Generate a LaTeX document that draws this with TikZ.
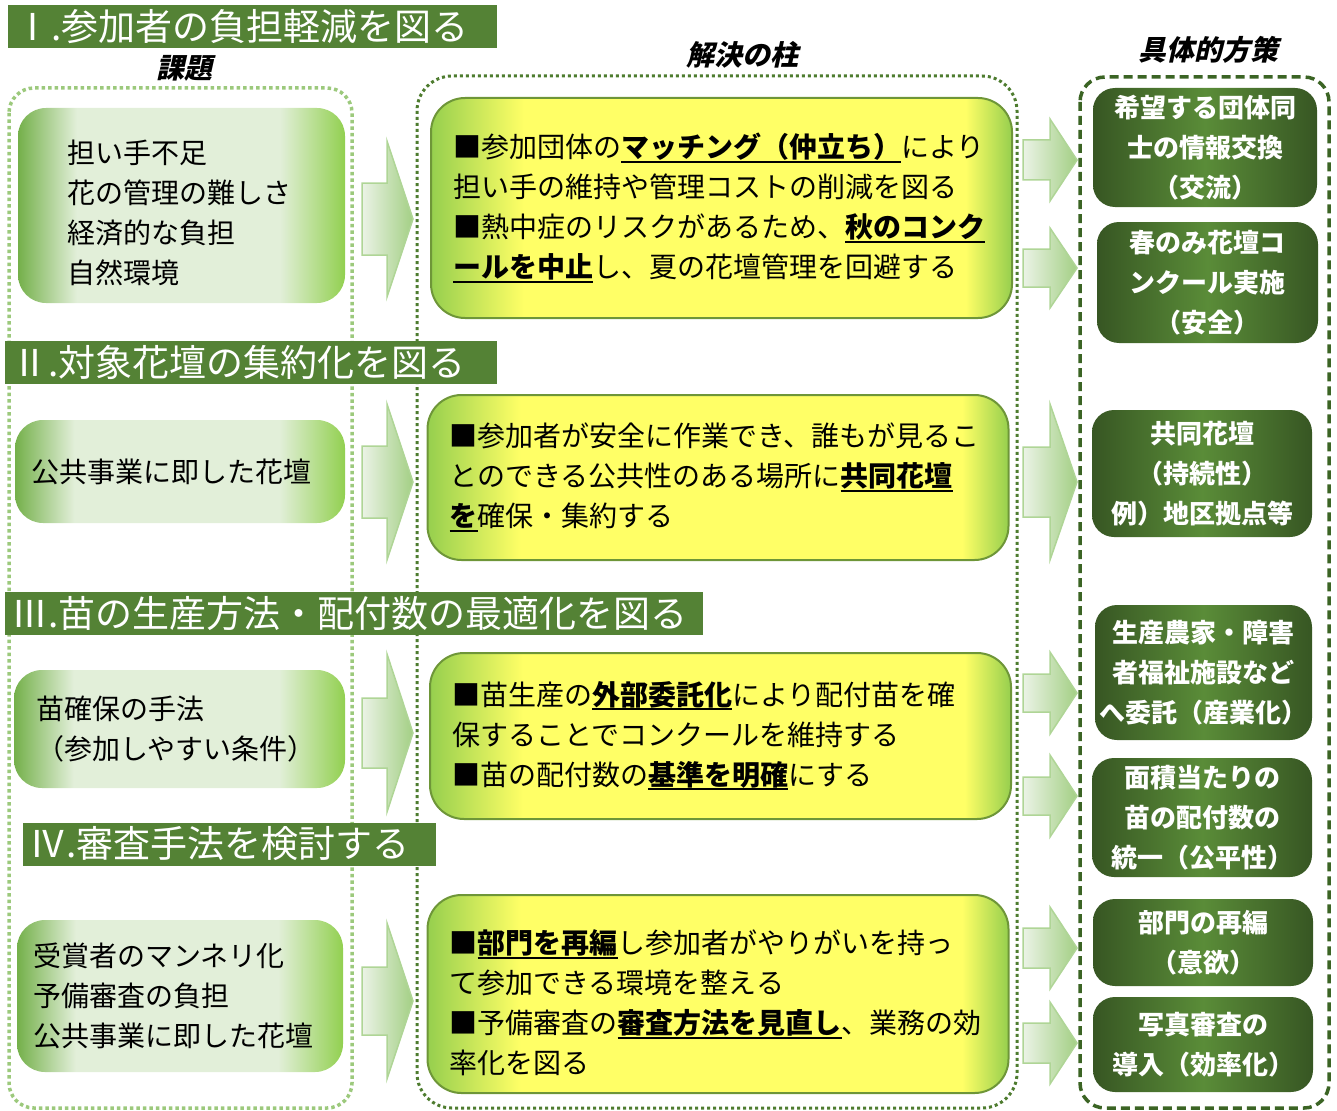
\documentclass[tikz,border=0pt]{standalone}
\usepackage{fontspec}
\setmainfont{Noto Sans CJK JP}
\newfontfamily\headfont[FakeSlant=0.22]{Noto Sans CJK JP}
\definecolor{bargreen}{HTML}{548235}
\definecolor{kadaiL}{HTML}{74B04A}
\definecolor{kadaiM}{HTML}{E2EFD9}
\definecolor{kadaiR}{HTML}{92D050}
\definecolor{hashiraG}{HTML}{96CF4E}
\definecolor{hashiraY}{HTML}{FFFF66}
\definecolor{hashiraline}{HTML}{6E9638}
\definecolor{sakuD}{HTML}{375623}
\definecolor{sakuL}{HTML}{5A8C38}
\definecolor{arrowpale}{HTML}{EBF3E6}
\definecolor{arrowgreen}{HTML}{A3CF84}
\definecolor{arrowline}{HTML}{AFD596}
\definecolor{kadaidot}{HTML}{9CC97C}
\definecolor{hashiradot}{HTML}{4E7C2F}
\definecolor{sakudash}{HTML}{3B6424}
\pgfdeclarehorizontalshading{kadaifill}{100bp}{color(0bp)=(kadaiL); color(25bp)=(kadaiL); color(34bp)=(kadaiM); color(65bp)=(kadaiM); color(75bp)=(kadaiR); color(100bp)=(kadaiR)}
\pgfdeclarehorizontalshading{hashirafill}{100bp}{color(0bp)=(hashiraG); color(25bp)=(hashiraG); color(33bp)=(hashiraY); color(71bp)=(hashiraY); color(75bp)=(hashiraG); color(100bp)=(hashiraG)}
\pgfdeclarehorizontalshading{sakufill}{100bp}{color(0bp)=(sakuD); color(25bp)=(sakuD); color(50bp)=(sakuL); color(75bp)=(sakuD); color(100bp)=(sakuD)}
\newsavebox\keybox
\newcommand\keyul[1]{\leavevmode\sbox\keybox{\bfseries#1}\rlap{\rule[-5pt]{\wd\keybox}{2pt}}\usebox\keybox}
\begin{document}
\begin{tikzpicture}[x=1pt,y=-1pt,
  titlebar/.style={fill=bargreen,text=white,inner xsep=6pt,inner ysep=0pt,align=left,minimum height=43pt,font=\fontsize{37}{40}\selectfont},
  headtext/.style={inner sep=0pt,font=\headfont\bfseries\fontsize{28}{34}\selectfont},
  kadaibox/.style={shading=kadaifill,rounded corners=28pt,inner ysep=0pt,align=left,font=\fontsize{28}{40}\selectfont},
  hashirabox/.style={shading=hashirafill,draw=hashiraline,line width=2pt,rounded corners=34pt,inner xsep=22pt,inner ysep=0pt,align=left,text width=537pt,font=\fontsize{28}{40}\selectfont},
  sakubox/.style={shading=sakufill,rounded corners=22pt,inner sep=0pt,text=white,align=center,font=\bfseries\fontsize{26}{40}\selectfont},
  bigarrow/.style={draw=arrowline,line width=1.5pt,left color=arrowpale,right color=arrowgreen},
  kadaiframe/.style={draw=kadaidot,line width=3.5pt,dash pattern=on 3.5pt off 3pt,rounded corners=25pt},
  hashiraframe/.style={draw=hashiradot,line width=3pt,dash pattern=on 3pt off 3pt,rounded corners=35pt},
  sakuframe/.style={draw=sakudash,line width=3.5pt,dash pattern=on 9pt off 5pt,rounded corners=25pt}]
\useasboundingbox (0,0) rectangle (1337,1110);
\draw[kadaiframe] (9,88) rectangle (352,1108);
\draw[hashiraframe] (417,76) rectangle (1017,1108);
\draw[sakuframe] (1080,77) rectangle (1329,1108);
\node[titlebar,minimum width=489pt,text width=477pt] (t1) at (252.5,26.5) {Ⅰ.参加者の負担軽減を図る};
\node[titlebar,minimum width=492pt,text width=480pt] (t2) at (251,362) {Ⅱ.対象花壇の集約化を図る};
\node[titlebar,minimum width=698pt,text width=686pt] (t3) at (354,613.5) {Ⅲ.苗の生産方法・配付数の最適化を図る};
\node[titlebar,minimum width=413pt,text width=401pt] (t4) at (229.5,844) {Ⅳ.審査手法を検討する};
\node[headtext] (hkadai) at (184,68) {課題};
\node[headtext] (hhashira) at (742,55) {解決の柱};
\node[headtext] (hsaku) at (1208,50) {具体的方策};
\foreach \yc/\bh/\hh in {219/36/78, 482/36/78, 733/35/79, 1001/34/78}
  \draw[bigarrow] (362,\yc-\bh) -- (387,\yc-\bh) -- (387,\yc-\hh) -- (413,\yc) -- (387,\yc+\hh) -- (387,\yc+\bh) -- (362,\yc+\bh) -- cycle;
\foreach \yc/\bh/\hh in {160/20/41, 268/19/40, 482/35/78, 693/19/41, 796/19/41, 948/20/41, 1043/20/41}
  \draw[bigarrow] (1023,\yc-\bh) -- (1050,\yc-\bh) -- (1050,\yc-\hh) -- (1077,\yc) -- (1050,\yc+\hh) -- (1050,\yc+\bh) -- (1023,\yc+\bh) -- cycle;
\node[kadaibox,minimum width=327pt,minimum height=195pt,inner xsep=49pt,text width=229pt] (k1) at (181.5,205.5) {\rule{0pt}{38pt}担い手不足\\花の管理の難しさ\\経済的な負担\\自然環境};
\node[kadaibox,minimum width=330pt,minimum height=103pt,inner xsep=16pt,text width=298pt] (k2) at (180,471.5) {公共事業に即した花壇};
\node[kadaibox,minimum width=331pt,minimum height=118pt,inner xsep=22pt,text width=287pt] (k3) at (179.5,729) {苗確保の手法\\（参加しやすい条件）};
\node[kadaibox,minimum width=326pt,minimum height=152pt,inner xsep=16pt,text width=294pt] (k4) at (180,996) {受賞者のマンネリ化\\予備審査の負担\\公共事業に即した花壇};
\node[hashirabox,minimum height=220pt] (m1) at (721.5,208) {■参加団体の\keyul{マッチング（仲立ち）}により\\担い手の維持や管理コストの削減を図る\\■熱中症のリスクがあるため、\keyul{秋のコンク}\\\keyul{ールを中止}し、夏の花壇管理を回避する};
\node[hashirabox,minimum height=165pt] (m2) at (718,477.5) {■参加者が安全に作業でき、誰もが見るこ\\とのできる公共性のある場所に\keyul{共同花壇}\\\keyul{を}確保・集約する};
\node[hashirabox,minimum height=166pt] (m3) at (720.5,736) {■苗生産の\keyul{外部委託化}により配付苗を確\\保することでコンクールを維持する\\■苗の配付数の\keyul{基準を明確}にする};
\node[hashirabox,minimum height=198pt] (m4) at (718,994) {\rule{0pt}{42pt}■\keyul{部門を再編}し参加者がやりがいを持っ\\て参加できる環境を整える\\■予備審査の\keyul{審査方法を見直し}、業務の効\\率化を図る};
\node[sakubox,minimum width=224pt,minimum height=119pt] (s1) at (1205,147.5) {希望する団体同\\士の情報交換\\（交流）};
\node[sakubox,minimum width=221pt,minimum height=121pt] (s2) at (1207.5,282.5) {春のみ花壇コ\\ンクール実施\\（安全）};
\node[sakubox,minimum width=220pt,minimum height=127pt] (s3) at (1202,473.5) {共同花壇\\（持続性）\\例）地区拠点等};
\node[sakubox,minimum width=217pt,minimum height=135pt] (s4) at (1203.5,672.5) {生産農家・障害\\者福祉施設など\\へ委託（産業化）};
\node[sakubox,minimum width=220pt,minimum height=119pt] (s5) at (1202,817.5) {面積当たりの\\苗の配付数の\\統一（公平性）};
\node[sakubox,minimum width=220pt,minimum height=87pt] (s6) at (1203,942.5) {部門の再編\\（意欲）};
\node[sakubox,minimum width=220pt,minimum height=95pt] (s7) at (1203,1044.5) {写真審査の\\導入（効率化）};
\end{tikzpicture}
\end{document}
